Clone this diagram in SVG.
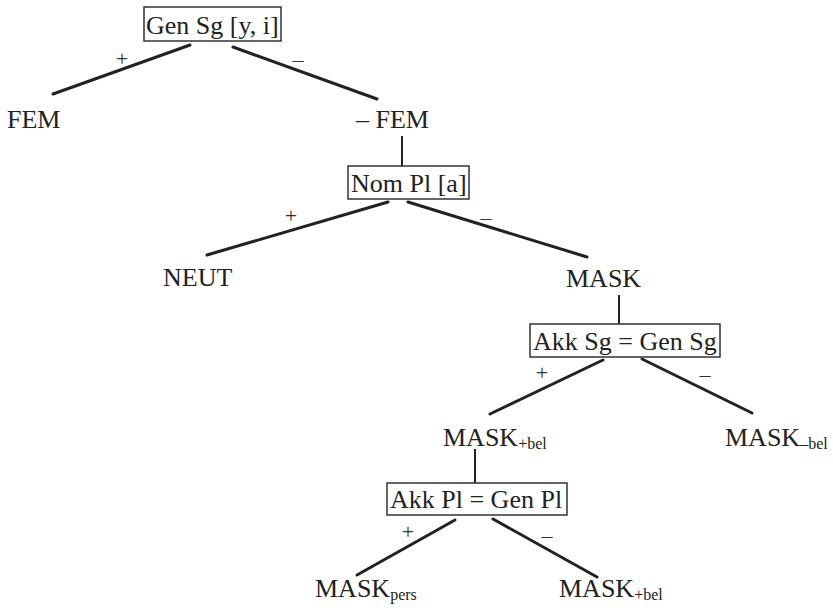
<svg xmlns="http://www.w3.org/2000/svg" width="833" height="611" viewBox="0 0 833 611">
  <style>
    .lbl { font-family: "Liberation Serif", "Times New Roman", serif; font-size: 26px; fill: #222; }
    .sub { font-size: 16px; }
    .sign { font-family: "Liberation Serif", "Times New Roman", serif; font-size: 22px; fill: #333; text-anchor: middle; }
    .box { fill: none; stroke: #333; stroke-width: 1.5; }
    .edge { stroke: #222; stroke-width: 3; stroke-linecap: round; fill: none; }
    .stem { stroke: #222; stroke-width: 2; fill: none; }
  </style>
  <rect width="833" height="611" fill="#ffffff"/>

  <!-- branches -->
  <g id="connectors">
    <line class="edge" x1="190" y1="45" x2="53" y2="94"/>
    <line class="edge" x1="233" y1="47" x2="377" y2="99"/>
    <line class="stem" x1="402" y1="136" x2="402" y2="166"/>
    <line class="edge" x1="388" y1="202" x2="207" y2="255"/>
    <line class="edge" x1="408" y1="202" x2="587" y2="257"/>
    <line class="stem" x1="619" y1="295" x2="619" y2="324"/>
    <line class="edge" x1="603" y1="360" x2="490" y2="414"/>
    <line class="edge" x1="642" y1="359" x2="752" y2="413"/>
    <line class="stem" x1="475" y1="449" x2="475" y2="483"/>
    <line class="edge" x1="455" y1="520" x2="357" y2="575"/>
    <line class="edge" x1="493" y1="519" x2="597" y2="577"/>
    <text class="sign" x="122" y="66">+</text>
    <text class="sign" x="298" y="67">–</text>
    <text class="sign" x="291" y="223">+</text>
    <text class="sign" x="486" y="225">–</text>
    <text class="sign" x="542" y="380">+</text>
    <text class="sign" x="705" y="382">–</text>
    <text class="sign" x="408" y="539">+</text>
    <text class="sign" x="547" y="543">–</text>
  </g>

  <g id="gen-sg">
    <rect class="box" x="144" y="7" width="137" height="34"/>
    <text class="lbl" x="146" y="34">Gen Sg [y, i]</text>
  </g>
  <g id="fem">
    <text class="lbl" x="7" y="128">FEM</text>
  </g>
  <g id="non-fem">
    <text class="lbl" x="356" y="128">– FEM</text>
  </g>
  <g id="nom-pl">
    <rect class="box" x="348" y="166" width="121" height="33"/>
    <text class="lbl" x="351" y="192">Nom Pl [a]</text>
  </g>
  <g id="neut">
    <text class="lbl" x="163" y="286">NEUT</text>
  </g>
  <g id="mask">
    <text class="lbl" x="566" y="287">MASK</text>
  </g>
  <g id="akk-sg">
    <rect class="box" x="530" y="324" width="190" height="33"/>
    <text class="lbl" x="533" y="350">Akk Sg = Gen Sg</text>
  </g>
  <g id="mask-plus-bel">
    <text class="lbl" x="443" y="446">MASK<tspan class="sub" dy="3">+bel</tspan></text>
  </g>
  <g id="mask-minus-bel">
    <text class="lbl" x="725" y="446">MASK<tspan class="sub" dy="3">–bel</tspan></text>
  </g>
  <g id="akk-pl">
    <rect class="box" x="387" y="483" width="180" height="32"/>
    <text class="lbl" x="390" y="508">Akk Pl = Gen Pl</text>
  </g>
  <g id="mask-pers">
    <text class="lbl" x="315" y="597">MASK<tspan class="sub" dy="3">pers</tspan></text>
  </g>
  <g id="mask-plus-bel-2">
    <text class="lbl" x="559" y="597">MASK<tspan class="sub" dy="3">+bel</tspan></text>
  </g>
</svg>
